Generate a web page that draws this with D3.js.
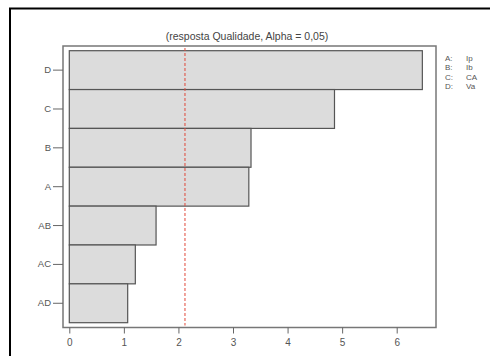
<!DOCTYPE html>
<html><head><meta charset="utf-8">
<script src="https://cdn.jsdelivr.net/npm/d3@7"></script>
<style>body{margin:0;background:#fff}svg{display:block}text{font-family:"Liberation Sans",Arial,sans-serif}</style>
</head><body><svg id="c" width="490" height="356"></svg>
<script>
const categories = ["D","C","B","A","AB","AC","AD"];
const effects = [6.47,4.86,3.33,3.29,1.59,1.21,1.07];
const xTicks = [0,1,2,3,4,5,6];
const critical = 2.12;
const title = "(resposta Qualidade, Alpha = 0,05)";
const legendKeys = ["A:","B:","C:","D:"];
const legendNames = ["Ip","Ib","CA","Va"];

const svg = d3.select("#c");
svg.append("rect").attr("x",10).attr("y",8.5).attr("width",500).attr("height",400)
  .attr("fill","none").attr("stroke","#000").attr("stroke-width",2);

const box = {l:63,t:46,r:436,b:327.5};
const x = d3.scaleLinear().domain([0,6]).range([69.3,396.7]);
const y = d3.scaleBand().domain(categories).range([50.7,322.7]).padding(0);

svg.selectAll("rect.bar").data(categories).join("rect").attr("class","bar")
  .attr("x",x(0)).attr("y",d=>y(d)).attr("width",(d,i)=>x(effects[i])-x(0)).attr("height",y.bandwidth())
  .attr("fill","#dcdcdc").attr("stroke","#555").attr("stroke-width",1.2);

svg.append("line").attr("x1",x(critical)).attr("x2",x(critical)).attr("y1",box.t+2).attr("y2",box.b-2)
  .attr("stroke","#e0483a").attr("stroke-width",1).attr("stroke-dasharray","3,2");

svg.append("rect").attr("x",box.l).attr("y",box.t).attr("width",box.r-box.l).attr("height",box.b-box.t)
  .attr("fill","none").attr("stroke","#777").attr("stroke-width",1.5);

const ya = svg.append("g").attr("transform",`translate(${box.l},0)`)
  .call(d3.axisLeft(y).tickSize(10).tickSizeOuter(0).tickPadding(2));
ya.select(".domain").remove();
ya.selectAll("line").attr("stroke","#666");
ya.selectAll("text").attr("fill","#555").attr("font-size",9.5).attr("font-family","Liberation Sans, Arial, sans-serif");

const xa = svg.append("g").attr("transform",`translate(0,${box.b})`)
  .call(d3.axisBottom(x).tickValues(xTicks).tickFormat(d3.format("d")).tickSize(6).tickPadding(5));
xa.select(".domain").remove();
xa.selectAll("line").attr("stroke","#666");
xa.selectAll("text").attr("fill","#555").attr("font-size",10).attr("font-family","Liberation Sans, Arial, sans-serif");

svg.append("text").attr("x",247).attr("y",39.5).attr("text-anchor","middle")
  .attr("font-size",10.5).attr("fill","#444").text(title);

const lg = svg.append("g");
legendKeys.forEach((k,i)=>{
  lg.append("text").attr("x",445).attr("y",61+i*9.3).attr("font-size",8).attr("fill","#555").text(k);
  lg.append("text").attr("x",466).attr("y",61+i*9.3).attr("font-size",8).attr("fill","#555").text(legendNames[i]);
});
</script></body></html>
